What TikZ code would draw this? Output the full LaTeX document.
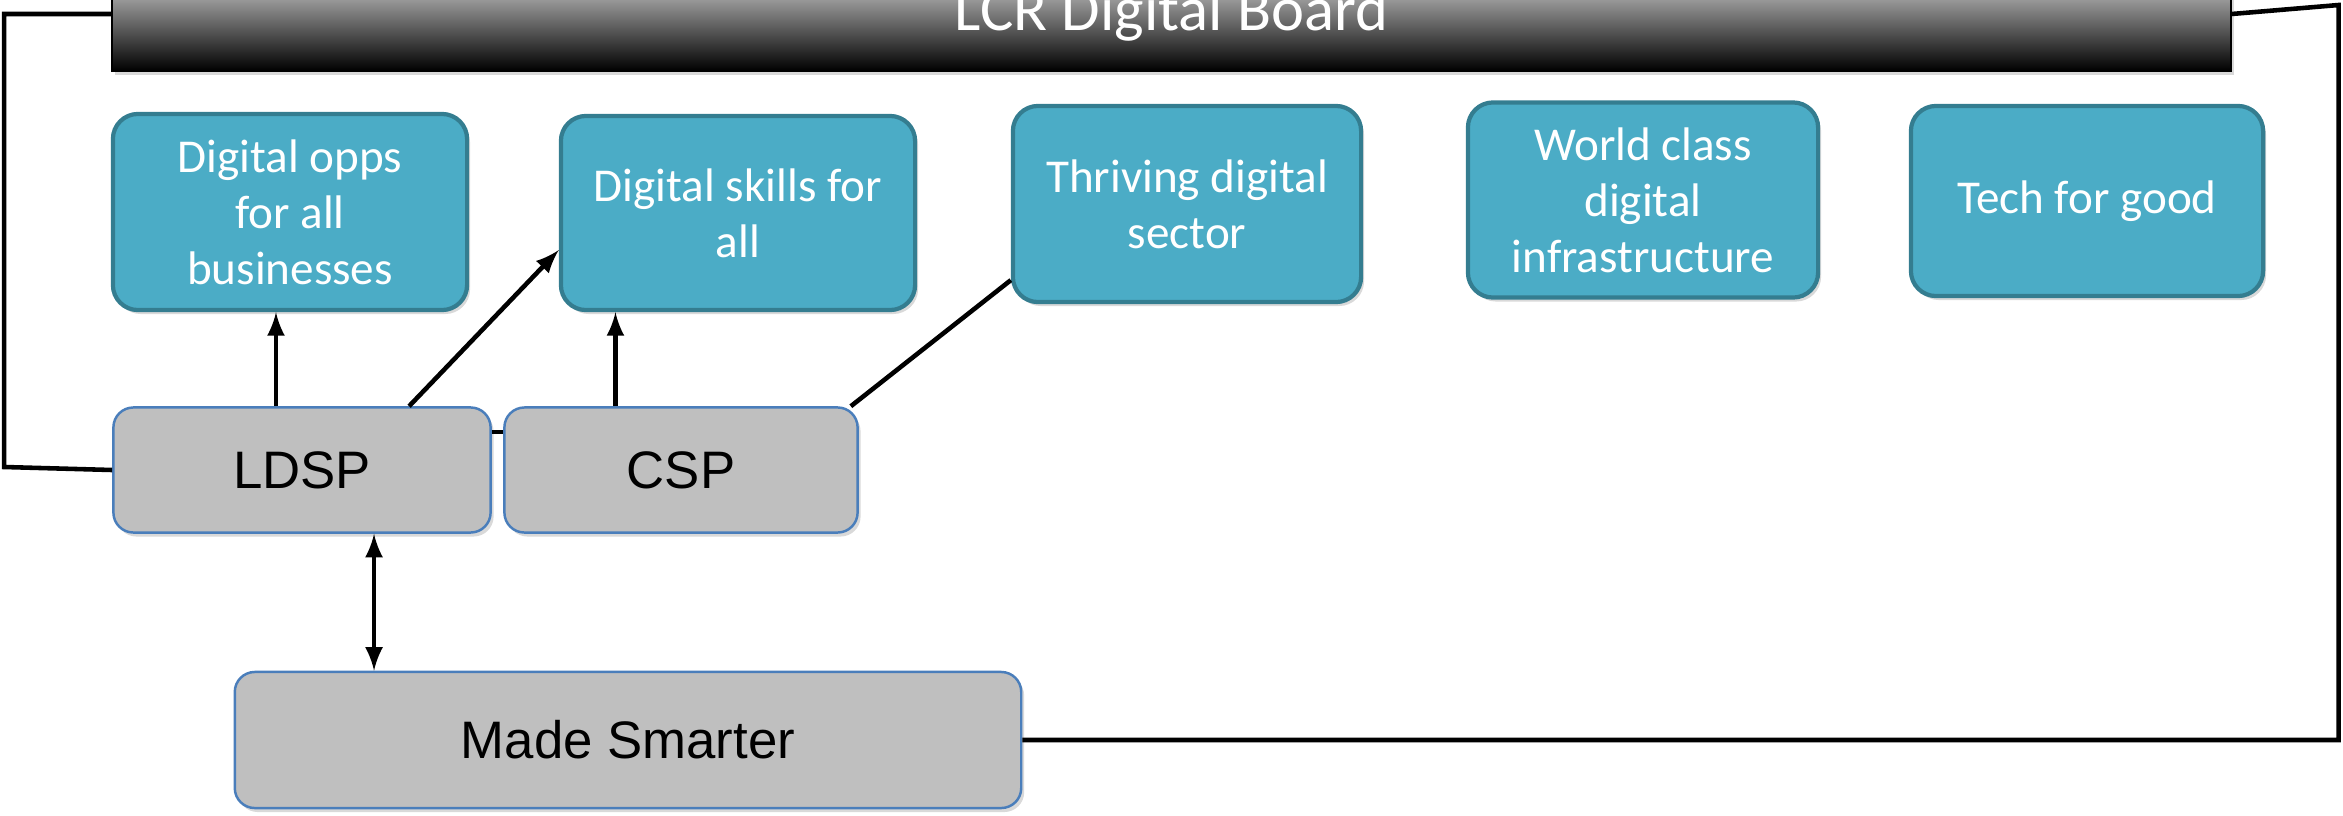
\documentclass[tikz,border=0pt]{standalone}
\usepackage{fontspec}
\setmainfont{Carlito}
\newfontfamily\arialfont{Liberation Sans}
\usetikzlibrary{shadows}
\definecolor{tealfill}{RGB}{75,172,198}
\definecolor{tealline}{RGB}{52,125,144}
\definecolor{greyfill}{RGB}{191,191,191}
\definecolor{greyline}{RGB}{74,126,187}
\tikzset{
  softshadow/.style={drop shadow={opacity=0.3,shadow xshift=0.03cm,shadow yshift=-0.04cm}},
  goal/.style={draw=tealline,line width=1.2pt,fill=tealfill,rounded corners=0.25cm,
    text=white,align=center,inner sep=0pt,softshadow,
    font=\fontsize{13.4pt}{15.9pt}\selectfont},
  group/.style={draw=greyline,line width=0.7pt,fill=greyfill,rounded corners=0.2cm,
    inner sep=0pt,softshadow,font=\arialfont\fontsize{15pt}{18pt}\selectfont},
  link/.style={line width=1.3pt},
}

\begin{document}
\begin{tikzpicture}[x=0.01cm,y=-0.01cm,>=latex]
    \useasboundingbox (0,0) rectangle (2343,815);
    % board across the top
    \node (board) at (1171.5,14) [draw=black,line width=0.6pt,top color=black!5,bottom color=black,
      minimum width=21.17cm,minimum height=1.14cm,text=white,softshadow,
      font=\fontsize{17.8pt}{21pt}\selectfont] {LCR Digital Board};
    % the five aims
    \node (opps) at (290,212) [goal,minimum width=3.54cm,minimum height=1.96cm] {Digital opps\\for all\\businesses};
    \node (skills) at (738,213) [goal,minimum width=3.54cm,minimum height=1.94cm] {Digital skills for\\all};
    \node (sector) at (1187,204) [goal,minimum width=3.48cm,minimum height=1.96cm] {Thriving digital\\sector};
    \node (infra) at (1643,200) [goal,minimum width=3.50cm,minimum height=1.95cm] {World class\\digital\\infrastructure};
    \node (good) at (2087,201) [goal,minimum width=3.52cm,minimum height=1.90cm] {Tech for good};
    % partnerships
    \node (ldsp) at (302,470) [group,minimum width=3.77cm,minimum height=1.25cm] {LDSP};
    \node (csp) at (681,470) [group,minimum width=3.53cm,minimum height=1.25cm] {CSP};
    \node (made) at (628,740) [group,minimum width=7.86cm,minimum height=1.36cm] {Made Smarter};
    % links
    \draw [link] (ldsp.west) -- ++(-108,-3) |- (board.west);
    \draw [link] (board.east) -- ++(107,-9) |- (made.east);
    \draw [link] ([yshift=0.38cm]ldsp.east) -- ([yshift=0.38cm]ldsp.east -| csp.west);
    \draw [link,<->] ([xshift=0.72cm]ldsp.south) -- ([xshift=0.72cm]ldsp.south |- made.north);
    \draw [link,->] ([xshift=-0.26cm]ldsp.north) -- ([xshift=-0.26cm]ldsp.north |- opps.south);
    \draw [link,->] ([xshift=1.07cm]ldsp.north) -- ([yshift=-0.37cm]skills.west);
    \draw [link,->] ([xshift=-0.655cm]csp.north) -- ([xshift=-0.655cm]csp.north |- skills.south);
    \draw [link] ([xshift=-0.08cm]csp.north east) -- ([yshift=0.24cm]sector.south west);
\end{tikzpicture}
\end{document}
